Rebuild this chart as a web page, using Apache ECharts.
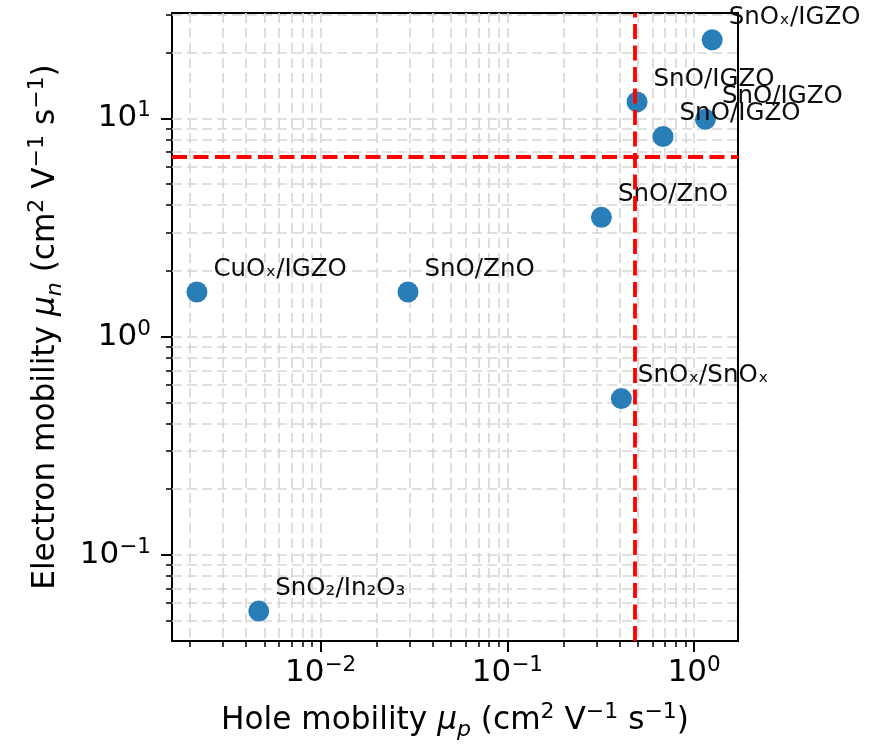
<!DOCTYPE html>
<html>
<head>
<meta charset="utf-8">
<script src="https://cdn.jsdelivr.net/npm/echarts@6/dist/echarts.min.js"></script>
<style>
  html, body { margin: 0; padding: 0; background: #ffffff; }
  #chart { width: 871px; height: 746px; }
</style>
</head>
<body>
<div id="chart"></div>
<script>
// Heterojunction pairs: hole mobility of the p-type layer vs electron mobility of the n-type layer
const materials = ['CuOₓ/IGZO', 'SnO/ZnO', 'SnO/ZnO', 'SnOₓ/SnOₓ', 'SnO₂/In₂O₃', 'SnOₓ/IGZO', 'SnO/IGZO', 'SnO/IGZO', 'SnO/IGZO'];
const holeMobility = [0.00218, 0.0294, 0.319, 0.408, 0.00467, 1.25, 0.495, 1.15, 0.682];
const electronMobility = [1.60, 1.60, 3.52, 0.52, 0.0552, 22.9, 11.9, 9.9, 8.25];

// Reference levels (dashed red)
const holeThreshold = [0.48];
const electronThreshold = [6.7];

// Axis ranges and tick positions
const xRange = [0.001603, 1.718];
const yRange = [0.04027, 30.4];
const xMajorTicks = [0.01, 0.1, 1];
const yMajorTicks = [0.1, 1, 10];
const xMinorTicks = [0.002, 0.003, 0.004, 0.005, 0.006, 0.007, 0.008, 0.009,
                     0.02, 0.03, 0.04, 0.05, 0.06, 0.07, 0.08, 0.09,
                     0.2, 0.3, 0.4, 0.5, 0.6, 0.7, 0.8, 0.9];
const yMinorTicks = [0.05, 0.06, 0.07, 0.08, 0.09,
                     0.2, 0.3, 0.4, 0.5, 0.6, 0.7, 0.8, 0.9,
                     2, 3, 4, 5, 6, 7, 8, 9, 20, 30];

const FONT = 'DejaVu Sans';

const gridStyle = { color: '#d6d6d6', width: 1.6, type: [10, 5] };

const powerLabel = function (v) {
  const e = Math.round(Math.log10(v));
  return '{b|10}{s|' + (e < 0 ? '−' + (-e) : String(e)) + '}';
};
const tickRich = {
  b: { fontFamily: FONT, fontSize: 31, color: '#000', lineHeight: 37 },
  s: { fontFamily: FONT, fontSize: 21.5, color: '#000', lineHeight: 22, verticalAlign: 'top' }
};
const nameRich = {
  t: { fontFamily: FONT, fontSize: 31.2, color: '#000', lineHeight: 40 },
  it: { fontFamily: FONT, fontSize: 31.2, color: '#000', lineHeight: 40, fontStyle: 'italic' },
  sub: { fontFamily: FONT, fontSize: 22, color: '#000', lineHeight: 22, fontStyle: 'italic', verticalAlign: 'bottom' },
  sup: { fontFamily: FONT, fontSize: 22, color: '#000', lineHeight: 24, verticalAlign: 'top' }
};

function majorAxis(range, ticks, extra) {
  return Object.assign({
    type: 'log',
    logBase: 10,
    min: range[0],
    max: range[1],
    axisLine: { show: false },
    axisTick: { show: true, customValues: ticks, length: 11, lineStyle: { color: '#000', width: 2 } },
    axisLabel: { customValues: ticks, formatter: powerLabel, rich: tickRich },
    splitLine: { show: true, lineStyle: gridStyle },
    nameLocation: 'middle',
    nameTextStyle: { rich: nameRich }
  }, extra);
}
function minorAxis(range, ticks, extra) {
  return Object.assign({
    type: 'log',
    logBase: 10,
    min: range[0],
    max: range[1],
    axisLine: { show: false },
    axisTick: { show: true, customValues: ticks, length: 6, lineStyle: { color: '#000', width: 1.5 } },
    axisLabel: { show: false },
    splitLine: { show: true, lineStyle: gridStyle }
  }, extra);
}

const points = holeMobility.map((x, i) => ({ value: [x, electronMobility[i]], name: materials[i] }));

const chart = echarts.init(document.getElementById('chart'), null, { renderer: 'canvas' });
chart.setOption({
  animation: false,
  backgroundColor: '#ffffff',
  grid: {
    left: 172, top: 13, right: 133, bottom: 103,
    show: true, borderColor: '#000', borderWidth: 2, backgroundColor: 'transparent'
  },
  xAxis: [
    majorAxis(xRange, xMajorTicks, {
      position: 'bottom',
      name: '{t|Hole mobility }{it|μ}{sub|p}{t| (cm}{sup|2}{t| V}{sup|−1}{t| s}{sup|−1}{t|)}',
      nameGap: 60,
      axisLabel: { customValues: xMajorTicks, formatter: powerLabel, rich: tickRich, margin: 13 }
    }),
    minorAxis(xRange, xMinorTicks, { position: 'bottom' })
  ],
  yAxis: [
    majorAxis(yRange, yMajorTicks, {
      position: 'left',
      name: '{t|Electron mobility }{it|μ}{sub|n}{t| (cm}{sup|2}{t| V}{sup|−1}{t| s}{sup|−1}{t|)}',
      nameGap: 106,
      nameRotate: 90,
      axisLabel: { customValues: yMajorTicks, formatter: powerLabel, rich: tickRich, margin: 21 }
    }),
    minorAxis(yRange, yMinorTicks, { position: 'left' })
  ],
  series: [
    {
      // reference levels, drawn beneath the markers
      type: 'line',
      data: [],
      z: 1,
      markLine: {
        silent: true,
        symbol: 'none',
        label: { show: false },
        lineStyle: { color: '#ff0000', width: 3.8, type: [15, 6.5] },
        data: [{ xAxis: holeThreshold[0] }, { yAxis: electronThreshold[0] }]
      }
    },
    {
      type: 'scatter',
      z: 3,
      symbol: 'circle',
      symbolSize: 21,
      itemStyle: { color: '#1f77b4', opacity: 0.95 },
      data: points,
      label: {
        show: true,
        formatter: '{b}',
        position: [27, -12],
        align: 'left',
        verticalAlign: 'middle',
        fontFamily: FONT,
        fontSize: 24.5,
        color: '#000'
      },
      labelLayout: { hideOverlap: false }
    }
  ]
});
</script>
</body>
</html>
